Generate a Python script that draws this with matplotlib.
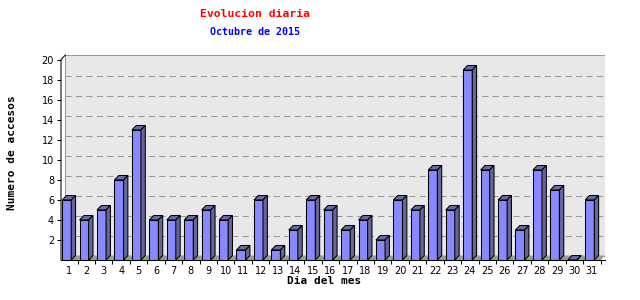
import matplotlib.pyplot as plt
from matplotlib.patches import Polygon
import numpy as np

dias = list(range(1, 32))
accesos = [6, 4, 5, 8, 13, 4, 4, 4, 5, 4, 1, 6, 1, 3, 6, 5, 3, 4, 2, 6,
           5, 9, 5, 19, 9, 6, 3, 9, 7, 0, 6]
yticks = list(range(2, 21, 2))

titulo = "Evolucion diaria"
subtitulo = "Octubre de 2015"
xlab = "Dia del mes"
ylab = "Numero de accesos"

# profundidad del efecto 3d (en unidades de datos)
dx, dy = 0.25, 0.45
w = 0.52
x0, x1 = 0.55, 31.75
ytop = 20.5
lw = 0.75

fig = plt.figure(figsize=(6.4, 3.0), dpi=100)
ax = fig.add_axes([61 / 640, 40 / 300, 544 / 640, 205 / 300])
ax.set_xlim(x0, x1)
ax.set_ylim(0, ytop)
for s in ax.spines.values():
    s.set_visible(False)
ax.set_facecolor('white')

# pared del fondo y suelo
ax.add_patch(Polygon([(x0 + dx, dy), (x0 + dx, ytop), (x1, ytop), (x1, dy)],
                     closed=True, facecolor='#e8e8e8', edgecolor='#999999', lw=lw, zorder=0))
ax.add_patch(Polygon([(x0, 0), (x0 + dx, dy), (x1, dy), (x1 - dx, 0)],
                     closed=True, facecolor='#999999', edgecolor='none', zorder=0.5))
for t in yticks[:-1]:
    ax.plot([x0 + dx, x1], [t + dy, t + dy], color='#999999', lw=lw, ls=(0, (6, 4)), zorder=0.6)

# ejes
ax.plot([x0, x0, x0 + dx], [0, ytop - dy, ytop], color='black', lw=lw, zorder=3, clip_on=False)
ax.plot([x0, x1], [0, 0], color='black', lw=lw, zorder=3, clip_on=False)

# barras
xs = np.array(dias) - dx / 2
ax.bar(xs, accesos, width=w, color='#8888ff', edgecolor='black', lw=lw, zorder=2)
for x, v in zip(xs, accesos):
    L, R = x - w / 2, x + w / 2
    ax.add_patch(Polygon([(L, v), (L + dx, v + dy), (R + dx, v + dy), (R, v)],
                         closed=True, facecolor='#6a6aa6', edgecolor='black', lw=lw, zorder=2))
    ax.add_patch(Polygon([(R, 0), (R + dx, dy), (R + dx, v + dy), (R, v)],
                         closed=True, facecolor='#666699', edgecolor='black', lw=lw, zorder=2))

ax.set_yticks(yticks)
ax.set_yticklabels([str(t) for t in yticks], fontsize=7)
ax.tick_params(axis='y', length=3, width=lw, pad=2, direction='out')
ax.set_xticks(dias)
ax.set_xticklabels([str(d) for d in dias], fontsize=7)
ax.set_xticks(np.arange(1.5, 32, 1), minor=True)
ax.tick_params(axis='x', which='major', length=0, pad=4)
ax.tick_params(axis='x', which='minor', length=3, width=lw, direction='out')

fig.text(255 / 640, 1 - 14 / 300, titulo, color='red', fontsize=8.2, fontweight='bold',
         family='DejaVu Sans Mono', ha='center', va='center')
fig.text(255 / 640, 1 - 32 / 300, subtitulo, color='blue', fontsize=7.2, fontweight='bold',
         family='DejaVu Sans Mono', ha='center', va='center')
fig.text(12 / 640, 1 - 153 / 300, ylab, rotation=90, fontsize=8, fontweight='bold',
         family='DejaVu Sans Mono', ha='center', va='center')
fig.text(324 / 640, 1 - 281 / 300, xlab, fontsize=8, fontweight='bold',
         family='DejaVu Sans Mono', ha='center', va='center')

fig.savefig('out.png', dpi=100)
